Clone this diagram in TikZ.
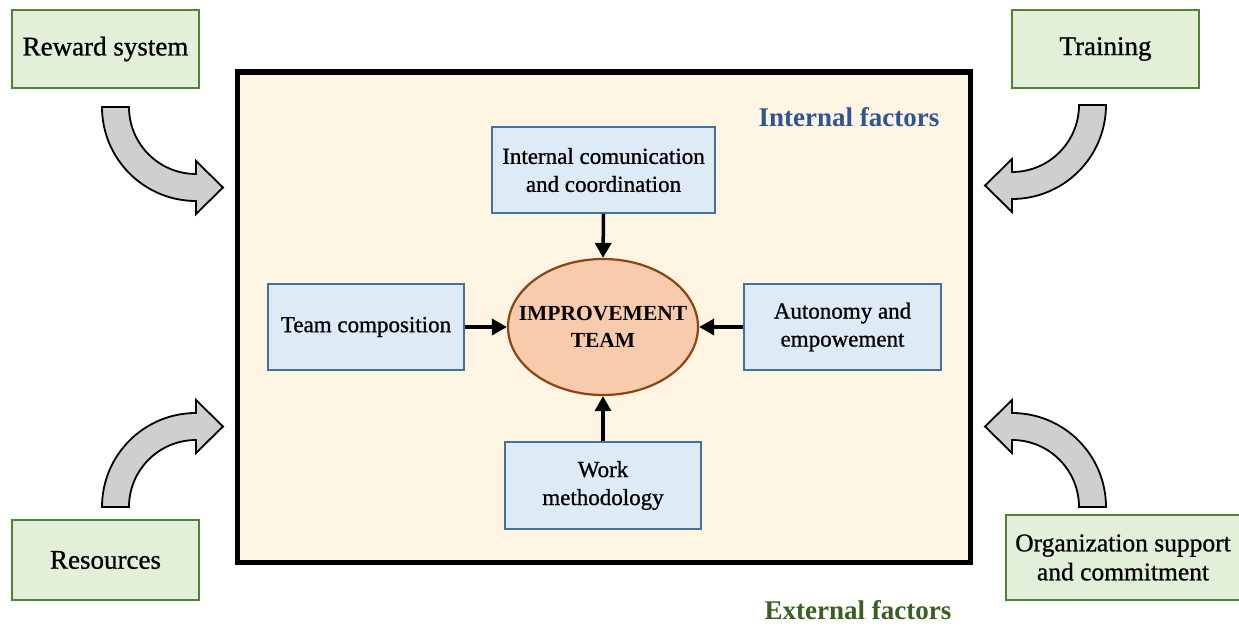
\documentclass[tikz,border=0pt]{standalone}
\usepackage{fontspec}
\setmainfont{Liberation Serif}
\newfontfamily\lblfont{Liberation Serif}[FakeBold=0.9]
\usetikzlibrary{shapes.geometric,arrows.meta}
\definecolor{gfill}{HTML}{E2EFD9}
\definecolor{gline}{HTML}{548235}
\definecolor{bfill}{HTML}{DDEBF7}
\definecolor{bline}{HTML}{41719C}
\definecolor{cream}{HTML}{FFF5E2}
\definecolor{efill}{HTML}{F8CBAD}
\definecolor{eline}{HTML}{8B4513}
\definecolor{afill}{HTML}{D0CECE}
\definecolor{inttxt}{HTML}{2F5597}
\definecolor{exttxt}{HTML}{3B5E21}
\tikzset{
  extbox/.style={draw=gline, line width=2.8pt, fill=gfill, inner sep=0pt, align=center,
    font=\lblfont\fontsize{27}{29}\selectfont},
  intbox/.style={draw=bline, line width=2pt, fill=bfill, inner sep=0pt, align=center,
    font=\lblfont\fontsize{23}{28}\selectfont},
  core/.style={ellipse, draw=eline, line width=2.2pt, fill=efill, inner xsep=-19pt, inner ysep=0pt, align=center,
    minimum width=190pt, minimum height=136pt, font=\bfseries\fontsize{21.5}{27}\selectfont},
  link/.style={line width=3.5pt, -{Triangle[length=15pt,width=16pt]}},
  bigarrow/.style={draw=black, line width=1.8pt, fill=afill, line join=miter},
  title/.style={font=\bfseries\fontsize{27}{30}\selectfont}
}
\newcommand{\curvedarrow}{%
  \path[bigarrow] (-94,0) -- (-67,0) arc[start angle=180,end angle=90,radius=67]
    -- (0,54) -- (27,80.5) -- (0,107) -- (0,94)
    arc[start angle=90,end angle=180,radius=94] -- cycle;}
\begin{document}
\begin{tikzpicture}[x=1pt,y=-1pt]
\useasboundingbox (0,0) rectangle (1239,626);
% main frame
\draw[line width=5pt, fill=cream] (237,72) rectangle (970,562);
\node[title, text=inttxt] (intf) at (849,117) {Internal factors};
\node[title, text=exttxt] (extf) at (858,610) {External factors};
% external boxes
\node[extbox, minimum width=187pt, minimum height=78pt] (reward) at (105.5,49) {Reward system};
\node[extbox, minimum width=187pt, minimum height=78pt] (training) at (1105.5,49) {Training};
\node[extbox, minimum width=187pt, minimum height=80pt] (resources) at (105.5,560) {Resources};
\node[extbox, minimum width=234pt, minimum height=85pt, font=\lblfont\fontsize{25.5}{29}\selectfont] (org) at (1123,557.5) {Organization support\\and commitment};
% internal boxes
\node[intbox, minimum width=223pt, minimum height=86pt] (comm) at (603.5,170) {Internal comunication\\and coordination};
\node[intbox, minimum width=196pt, minimum height=86pt] (team) at (366,327) {Team composition};
\node[intbox, minimum width=197pt, minimum height=86pt] (auto) at (842.5,327) {Autonomy and\\empowement};
\node[intbox, minimum width=196pt, minimum height=87pt] (work) at (603,485.5) {Work\\methodology};
% core
\node[core] (core) at (603,327) {IMPROVEMENT\\TEAM};
% connectors
\draw[link] (comm.south) -- (core.north);
\draw[link] (team.east) -- (core.west);
\draw[link] (auto.west) -- (core.east);
\draw[link] (work.north) -- (core.south);
% curved block arrows
\begin{scope}[shift={(196,107)}]\curvedarrow\end{scope}
\begin{scope}[shift={(1012,105)}, xscale=-1]\curvedarrow\end{scope}
\begin{scope}[shift={(196,507)}, yscale=-1]\curvedarrow\end{scope}
\begin{scope}[shift={(1012,507)}, xscale=-1, yscale=-1]\curvedarrow\end{scope}
\end{tikzpicture}
\end{document}
